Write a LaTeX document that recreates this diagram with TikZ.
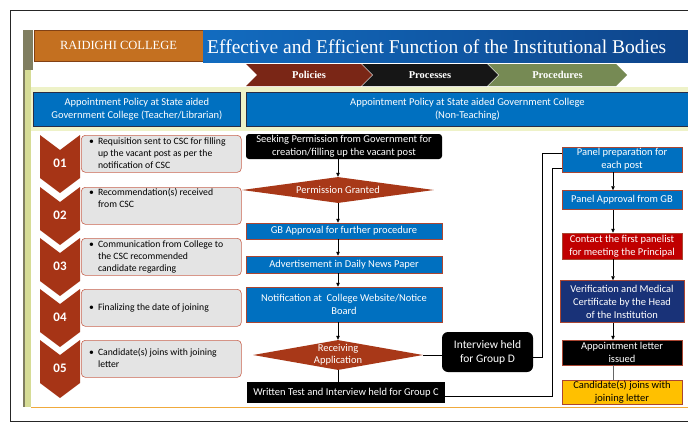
\documentclass[tikz,border=0pt]{standalone}
\usepackage{fontspec}
\setmainfont{Carlito}
\newfontfamily\titlefont{Liberation Serif}
\usetikzlibrary{positioning, calc, arrows.meta, shapes.geometric, shapes.symbols}
\tikzset{>={Triangle[length=4pt,width=3.5pt]}}

\definecolor{collegeorange}{RGB}{196,112,32}
\definecolor{collegeedge}{RGB}{130,65,20}
\definecolor{bannerL}{RGB}{18,108,192}
\definecolor{bannerR}{RGB}{14,68,138}
\definecolor{polred}{RGB}{122,38,22}
\definecolor{procblack}{RGB}{22,22,22}
\definecolor{procgreen}{RGB}{118,138,84}
\definecolor{headblue}{RGB}{0,112,192}
\definecolor{headedge}{RGB}{40,45,70}
\definecolor{numred}{RGB}{166,52,22}
\definecolor{greyfill}{RGB}{228,228,228}
\definecolor{greyedge}{RGB}{200,100,80}
\definecolor{flowblue}{RGB}{0,112,192}
\definecolor{flowedge}{RGB}{170,70,50}
\definecolor{choicered}{RGB}{168,56,24}
\definecolor{contactred}{RGB}{192,0,0}
\definecolor{navyblue}{RGB}{25,50,120}
\definecolor{gold}{RGB}{255,192,0}
\definecolor{bandyellow}{RGB}{238,242,200}
\definecolor{ruleorange}{RGB}{240,170,60}
\definecolor{olivegrey}{RGB}{128,126,96}
\definecolor{stripgreen}{RGB}{214,220,150}

\newcommand\bulletrow[1]{\begin{tabular}{@{}l@{\hspace{4pt}}l@{}}\textbullet&\begin{tabular}[t]{@{}l@{}}#1\end{tabular}\end{tabular}}

\begin{document}
\begin{tikzpicture}
    [x=1pt, y=-1pt,
     every node/.style={inner sep=1pt, align=center, font=\fontsize{10.5}{13}\selectfont},
     tab/.style={signal, signal to=east, signal from=west, minimum height=22pt, inner sep=0pt,
       text=white, font=\titlefont\bfseries\fontsize{10.5}{12}\selectfont},
     head/.style={draw=headedge, fill=headblue, text=white, line width=0.8pt, anchor=north west,
       minimum height=34pt},
     numtag/.style={text=white, font=\bfseries\fontsize{13}{15}\selectfont},
     greybox/.style={draw=greyedge, fill=greyfill, rounded corners=4pt, line width=0.6pt,
       minimum width=160pt, minimum height=37pt, anchor=north west},
     bul/.style={anchor=west, inner sep=0pt, align=left, text=black, font=\fontsize{9.7}{12}\selectfont},
     flowbox/.style={draw=flowedge, fill=flowblue, text=white, line width=0.5pt, minimum width=196pt},
     darkbox/.style={fill=black, text=white, minimum width=196pt},
     sidebox/.style={flowbox, minimum width=120pt, inner sep=0.5pt},
     choice/.style={diamond, fill=choicered, text=white, inner sep=0pt},
     link/.style={line width=0.6pt}]
    \useasboundingbox (0,0) rectangle (688,423);

    % slide frame and background strips
    \draw[line width=1pt, black!85] (688,10) -- (10,10) -- (10,421) -- (688,421);
    \fill[olivegrey] (23,30) rectangle (33,70);
    \fill[stripgreen] (23,70) rectangle (31,407);
    \fill[olivegrey] (23,70) rectangle (25,407);
    \fill[bandyellow] (31,87) rectangle (688,131);
    \draw[ruleorange, line width=1pt] (31,407) -- (688,407);

    % title row
    \node[draw=collegeedge, fill=collegeorange, line width=0.8pt, minimum width=169pt, minimum height=31pt,
      text=white, font=\titlefont\fontsize{12.5}{14}\selectfont] (college) at (118.5,45.5) {RAIDIGHI COLLEGE};
    \shade[left color=bannerL, right color=bannerR] (203,30) rectangle (688,62);
    \node[anchor=west, inner sep=0pt, text=white, font=\titlefont\fontsize{19.5}{22}\selectfont]
      (title) at (207,47) {Effective and Efficient Function of the Institutional Bodies};

    \node[tab, fill=polred, minimum width=126pt] (pol) at (309,75) {Policies};
    \node[tab, fill=procblack, minimum width=136pt] (proc) at (430,75) {Processes};
    \node[tab, fill=procgreen, minimum width=139pt] (proced) at (557.5,75) {Procedures};

    \node[head, minimum width=207pt] (headL) at (33,92)
      {Appointment Policy at State aided\\Government College (Teacher/Librarian)};
    \node[head, minimum width=442pt] (headR) at (246,92)
      {Appointment Policy at State aided Government College\\(Non-Teaching)};

    % teacher / librarian steps
    \foreach \i/\yy/\dy/\txt in {
        1/135/0/{Requisition sent to CSC for filling\\up the vacant post as per the\\notification of CSC},
        2/187/7/{Recommendation(s) received\\from CSC},
        3/238/0/{Communication from College to\\the CSC recommended\\candidate regarding},
        4/289/0/{Finalizing the date of joining},
        5/340/0/{Candidate(s) joins with joining\\letter}}
    {
      \fill[numred] (40,\yy) -- (60,\yy+15) -- (80,\yy) -- (80,\yy+43) -- (60,\yy+58) -- (40,\yy+43) -- cycle;
      \node[numtag] (n\i) at (60,\yy+28) {0\i};
      \node[greybox] (g\i) at (81,\yy) {};
      \node[bul] (s\i) at ([xshift=8pt, yshift=\dy pt]g\i.west) {\bulletrow{\txt}};
    }

    % non-teaching flow
    \node[darkbox, rounded corners=3pt, minimum height=25pt] (seek) at (344,146.5)
      {Seeking Permission from Government for\\creation/filling up the vacant post};
    \node[choice, minimum width=192pt, minimum height=26pt, aspect=7] (grant) at (338,190) {Permission Granted};
    \node[flowbox, minimum height=16pt] (gb) at (344,231) {GB Approval for further procedure};
    \node[flowbox, minimum height=17pt] (adv) at (344,264.5) {Advertisement in Daily News Paper};
    \node[flowbox, minimum height=35pt] (notif) at (344,304.5) {Notification at\ \ College Website/Notice\\Board};
    \node[choice, minimum width=170pt, minimum height=30pt, aspect=5.5, font=\fontsize{10.5}{12}\selectfont]
      (recv) at (338,355) {Receiving\\Application};
    \node[darkbox, minimum width=198pt, minimum height=21pt] (groupC) at (346,392.5)
      {Written Test and Interview held for Group C};
    \node[darkbox, rounded corners=6pt, minimum width=91pt, minimum height=40pt,
      font=\fontsize{11.5}{14}\selectfont] (groupD) at (487.5,352) {Interview held\\for Group D};

    \foreach \a/\b in {seek/grant, grant/gb, gb/adv, adv/notif, notif/recv}
      \draw[link, ->] (\a.south -| grant.center) -- (\b.north -| grant.center);
    \draw[link] (recv.south) -- (recv.south |- groupC.north);
    \draw[link] (recv.east) -- (recv.east -| groupD.west);

    % panel side
    \node[sidebox, minimum height=25pt] (panel) at (622,159.5) {Panel preparation for\\each post};
    \node[sidebox, below=18pt of panel, minimum height=19pt] (panelgb) {Panel Approval from GB};
    \node[sidebox, fill=contactred, below=23pt of panelgb, minimum height=26pt] (contact)
      {Contact the first panelist\\for meeting the Principal};
    \node[sidebox, fill=navyblue, below=21pt of contact, minimum width=124pt, minimum height=42pt] (verif)
      {Verification and Medical\\Certificate by the Head\\of the Institution};
    \node[sidebox, fill=black, below=17pt of verif, minimum height=25pt] (letter) {Appointment letter\\issued};
    \node[sidebox, fill=gold, text=black, below=15pt of letter, minimum height=23pt] (joins)
      {Candidate(s) joins with\\joining letter};

    \foreach \a/\b in {panel/panelgb, panelgb/contact, contact/verif, verif/letter}
      \draw[link, ->] ([xshift=-9pt]\a.south) -- ([xshift=-9pt]\b.north);
    \draw[link, black!60] ([xshift=-9pt]letter.south) -- ([xshift=-9pt]joins.north);

    \coordinate (dturn) at (542,153);
    \coordinate (cturn) at (552,168);
    \draw[link] ([yshift=-5pt]groupD.east) -| (dturn) -- (dturn -| panel.west);
    \draw[link] ([yshift=-4pt]groupC.east) -| (cturn) -- (cturn -| panel.west);
  \end{tikzpicture}
\end{document}
